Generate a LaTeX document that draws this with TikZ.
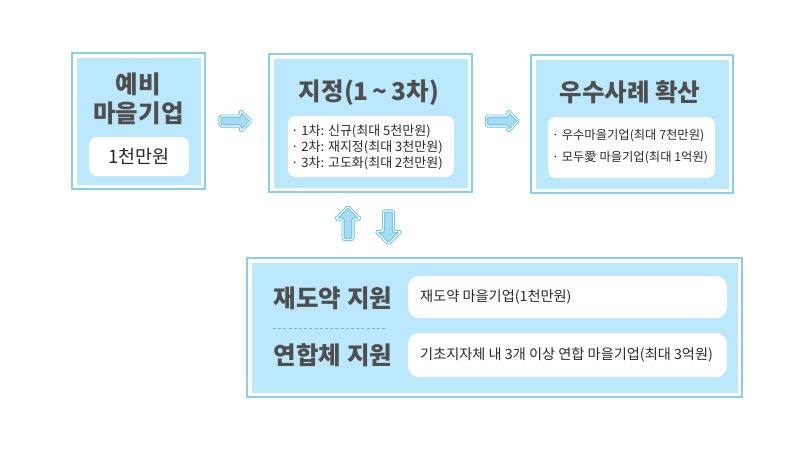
\documentclass[tikz,border=0pt]{standalone}
\usepackage{fontspec}
\setmainfont{Noto Sans CJK KR}
\usetikzlibrary{shapes.arrows}
\definecolor{bordc}{HTML}{86CFF0}
\definecolor{fillc}{HTML}{BBE8FC}
\definecolor{titlec}{HTML}{4F4F4F}
\definecolor{bodyc}{HTML}{2A2A2A}
\definecolor{arrline}{HTML}{62BFE9}
\definecolor{arrfill}{HTML}{A6DBF4}
\definecolor{dashc}{HTML}{A8A8A8}
\tikzset{
  panel/.style={draw=bordc, line width=1.6pt, fill=white, inner sep=0pt,
    path picture={\fill[fillc] ([xshift=4.5pt,yshift=-4.5pt]path picture bounding box.north west) rectangle ([xshift=-4.5pt,yshift=4.5pt]path picture bounding box.south east);}},
  wbox/.style={fill=white, rounded corners=8pt, inner sep=0pt},
  pill/.style={fill=white, rounded corners=11pt, inner sep=0pt},
  title/.style={font=\fontsize{24.5}{29}\selectfont\bfseries, text=titlec, align=center, inner sep=0pt},
  body/.style={font=\fontsize{13}{16}\selectfont, text=bodyc, align=left, inner sep=0pt},
  fat/.style={single arrow, draw=arrline, line width=0.9pt, double=white, double distance=1.3pt,
    fill=arrfill, inner sep=4.5pt, single arrow head extend=5.5pt, rounded corners=1.5pt},
}
\begin{document}
\begin{tikzpicture}[x=1pt,y=-1pt]
\useasboundingbox[fill=white] (0,0) rectangle (800,450);
% panels
\node[panel, minimum width=133pt, minimum height=136pt] (b1) at (138.5,121) {};
\node[panel, minimum width=203pt, minimum height=138pt] (b2) at (370.5,123) {};
\node[panel, minimum width=202pt, minimum height=138pt] (b3) at (632,124) {};
\node[panel, minimum width=495pt, minimum height=139pt] (b4) at (494.5,327.5) {};
% box 1
\node[title] (t1) at (138.5,99) {예비\\마을기업};
\node[wbox, minimum width=100pt, minimum height=39pt] (w1) at (139,156.5) {};
\node[font=\fontsize{18.5}{22}\selectfont, text=bodyc, inner sep=0pt] (w1t) at (w1) {1천만원};
% box 2
\node[title] (t2) at (369,93) {지정(1\,{\char"7E}\,3차)};
\node[wbox, minimum width=166pt, minimum height=61pt] (w2) at (371,146.5) {};
\node[body, anchor=west] (w2t) at (291,147) {· 1차: 신규(최대 5천만원)\\· 2차: 재지정(최대 3천만원)\\· 3차: 고도화(최대 2천만원)};
% box 3
\node[title] (t3) at (630,92) {우수사례 확산};
\node[wbox, minimum width=167pt, minimum height=61pt] (w3) at (631.5,147.5) {};
\node[body, anchor=west, font=\fontsize{12.3}{22}\selectfont] (w3t) at (552,147) {· 우수마을기업(최대 7천만원)\\· 모두愛 마을기업(최대 1억원)};
% bottom box
\node[title] (t4) at (333,298) {재도약 지원};
\node[title] (t5) at (333,355) {연합체 지원};
\coordinate (d1) at (273,328);
\coordinate (d2) at (387,328);
\draw[dashc, line width=0.7pt, dash pattern=on 3pt off 2.2pt] (d1) -- (d2);
\node[pill, minimum width=319pt, minimum height=42pt] (p1) at (567.5,297) {};
\node[pill, minimum width=319pt, minimum height=44pt] (p2) at (567.5,355) {};
\node[body, anchor=west, font=\fontsize{14.2}{17}\selectfont] (p1t) at (420,297) {재도약 마을기업(1천만원)};
\node[body, anchor=west, font=\fontsize{14.2}{17}\selectfont] (p2t) at (420,355) {기초지자체 내 3개 이상 연합 마을기업(최대 3억원)};
% arrows
\node[fat, minimum height=31pt] (a1) at (233,121) {};
\node[fat, minimum height=32pt] (a2) at (500,121) {};
\node[fat, shape border rotate=90, minimum height=33pt, single arrow head extend=7.5pt] (a3) at (348,225.5) {};
\node[fat, shape border rotate=270, minimum height=33pt, single arrow head extend=7.5pt] (a4) at (388.5,225) {};
\end{tikzpicture}
\end{document}
